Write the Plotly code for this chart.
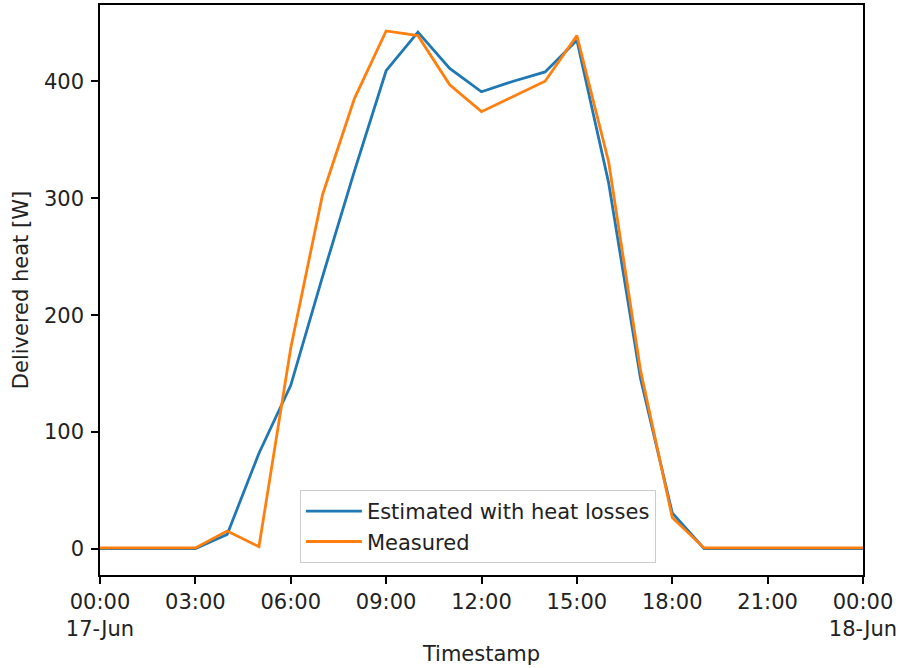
import pandas as pd
import plotly.graph_objects as go

# Hourly delivered heat over one day
timestamps = pd.date_range("2023-06-17 00:00", "2023-06-18 00:00", freq="h")

estimated_w = [0.5, 0.5, 0.5, 0.5, 12.5, 82, 140, 233, 323, 409, 442, 411, 391,
               400, 408, 435, 313, 146, 31, 0.5, 0.5, 0.5, 0.5, 0.5, 0.5]
measured_w = [1, 1, 1, 1, 15.5, 2, 172, 303, 385, 443, 439, 397, 374,
              387, 400, 439, 331, 153, 27, 1, 1, 1, 1, 1, 1]

tick_times = pd.date_range("2023-06-17 00:00", "2023-06-18 00:00", freq="3h")
tick_labels = ["00:00<br>17-Jun", "03:00", "06:00", "09:00", "12:00",
               "15:00", "18:00", "21:00", "00:00<br>18-Jun"]
y_ticks = [0, 100, 200, 300, 400]

FONT = "DejaVu Sans"
FS = 21
TXT = "#222222"

fig = go.Figure()
fig.add_trace(go.Scatter(x=timestamps, y=estimated_w, mode="lines",
                         name="Estimated with heat losses", legendgroup="a",
                         line=dict(color="#1f77b4", width=2.8)))
fig.add_trace(go.Scatter(x=timestamps, y=measured_w, mode="lines",
                         name="Measured", legendgroup="b",
                         line=dict(color="#ff7f0e", width=2.8)))

axis_common = dict(showline=True, mirror=True, linecolor="black", linewidth=1.5,
                   showgrid=False, zeroline=False, ticks="outside", ticklen=7,
                   tickwidth=1.5, tickcolor="black", automargin=False,
                   tickfont=dict(family=FONT, size=FS, color=TXT))

ymin = -22.15
ymax = 465.2

fig.update_layout(
    width=898, height=668,
    margin=dict(l=100, r=35, t=5, b=93),
    plot_bgcolor="white", paper_bgcolor="white",
    font=dict(family=FONT, size=FS, color=TXT),
    xaxis=dict(range=[timestamps[0], timestamps[-1]], tickmode="array",
               tickvals=tick_times, ticktext=tick_labels,
               title=dict(text="Timestamp", font=dict(family=FONT, size=FS), standoff=6),
               **axis_common),
    yaxis=dict(range=[ymin, ymax], tickmode="array", tickvals=y_ticks,
               ticklabelstandoff=3,
               title=dict(text="Delivered heat [W]", font=dict(family=FONT, size=FS), standoff=10),
               **axis_common),
    legend=dict(x=0.262, y=0.021, xanchor="left", yanchor="bottom",
                bgcolor="rgba(255,255,255,0.8)", bordercolor="#cccccc", borderwidth=1,
                font=dict(family=FONT, size=FS, color=TXT),
                tracegroupgap=0, itemwidth=56),
    showlegend=True,
)

fig.write_html("out.html")
